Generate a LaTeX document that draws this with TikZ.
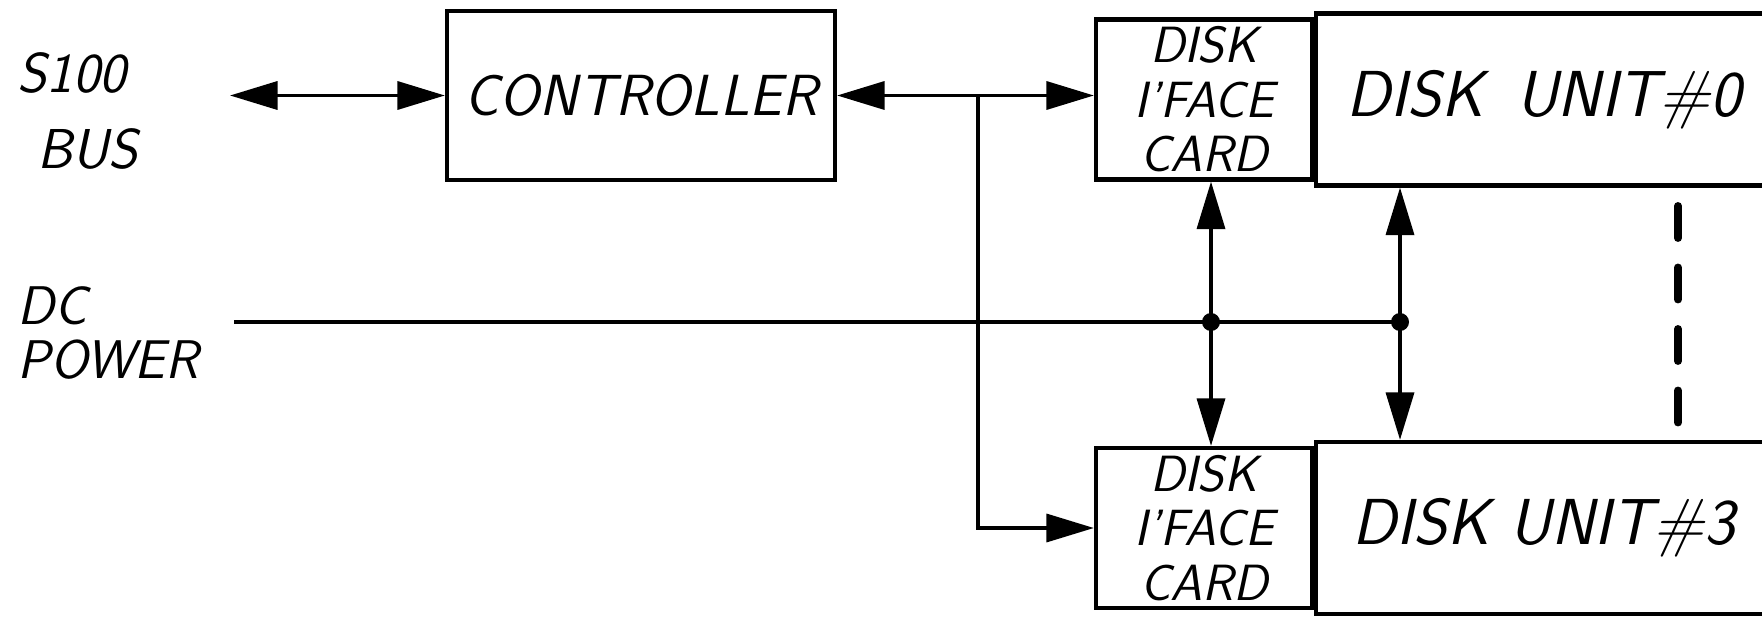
\documentclass[tikz,border=0pt]{standalone}
\usepackage{fontspec}
\usetikzlibrary{arrows.meta, positioning, calc}

\begin{document}
\begin{tikzpicture}[
  every node/.style={font=\sffamily\slshape},
  blk/.style={draw, line width=2.4pt, inner sep=0pt, align=center},
  card/.style={blk, minimum width=4.32cm, minimum height=3.2cm, font=\sffamily\slshape\fontsize{29}{31}\selectfont},
  unit/.style={blk, minimum width=9.1cm, minimum height=3.44cm, font=\sffamily\slshape\fontsize{37}{40}\selectfont},
  lbl/.style={align=left, inner sep=0pt, anchor=west},
  conn/.style={line width=2pt},
  twoarr/.style={conn, {Triangle[length=9.5mm, width=5.6mm]}-{Triangle[length=9.5mm, width=5.6mm]}},
  onearr/.style={conn, -{Triangle[length=9.5mm, width=5.6mm]}},
  jn/.style={circle, fill, inner sep=0pt, minimum size=3.6mm}
]
  \useasboundingbox (0,0) rectangle (35.24,-12.36);

  % labels on the left
  \node[lbl, font=\sffamily\slshape\fontsize{32}{43}\selectfont] (bus) at (0.34,-2.22) {S100\\\hspace*{0.4cm}BUS};
  \node[lbl, font=\sffamily\slshape\fontsize{31}{31}\selectfont] (pwr) at (0.34,-6.66) {DC\\POWER};

  % blocks
  \node[blk, minimum width=7.76cm, minimum height=3.38cm, font=\sffamily\slshape\fontsize{33}{36}\selectfont] (ctrl) at (12.82,-1.91) {CONTROLLER};
  \node[card] (card0) at (24.08,-1.99) {DISK\\I'FACE\\CARD};
  \node[unit, right=0pt of card0] (unit0) {DISK\enspace UNIT\#0};
  \node[card] (card3) at (24.08,-10.56) {DISK\\I'FACE\\CARD};
  \node[unit, right=0pt of card3] (unit3) {DISK UNIT\#3};

  % bus and data lines
  \coordinate (busend) at (4.6,-1.91);
  \draw[twoarr] (busend) -- (ctrl.west);
  \draw[twoarr] (ctrl.east) -- (card0.west |- ctrl.east);
  \coordinate (br) at (19.56,-1.91);
  \draw[onearr] (br) |- (card3.west);

  % power
  \coordinate (dcin) at (4.68,-6.44);
  \coordinate (j0) at (24.22,-6.44);
  \coordinate (j3) at (28.0,-6.44);
  \draw[conn] (dcin) -- (j3);
  \draw[twoarr] (j0 |- card0.south) -- (j0 |- card3.north);
  \draw[twoarr] (j3 |- unit0.south) -- (j3 |- unit3.north);
  \node[jn] (d0) at (j0) {};
  \node[jn] (d3) at (j3) {};

  % more units
  \coordinate (more0) at (33.56,-4.12);
  \coordinate (more3) at (33.56,-8.46);
  \draw[line width=4.5pt, line cap=round, dash pattern=on 0.64cm off 0.59cm] (more0) -- (more3);
\end{tikzpicture}
\end{document}
